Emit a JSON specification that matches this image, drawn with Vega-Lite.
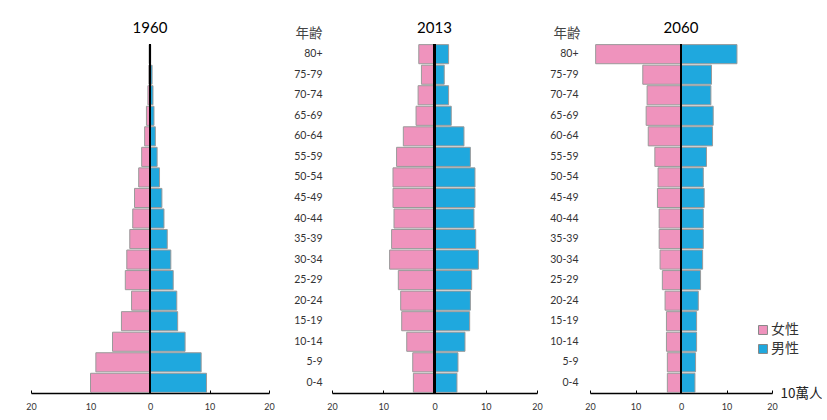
{
  "$schema": "https://vega.github.io/schema/vega-lite/v6.json",
  "padding": {"left": 25, "top": 21, "right": 0, "bottom": 0},
  "background": "white",
  "spacing": 4,
  "resolve": {"scale": {"color": "independent"}, "legend": {"color": "independent"}},
  "config": {
    "view": {"stroke": null},
    "font": "Lato",
    "title": {"fontSize": 15, "fontWeight": "normal", "color": "#000", "font": "Lato", "offset": 10},
    "axisX": {
      "domainColor": "#000", "domainWidth": 1.3, "labelFlush": false,
      "tickColor": "#000", "tickSize": -3, "tickWidth": 1,
      "labelPadding": 12, "labelFontSize": 9, "labelColor": "#333", "labelFont": "Lato",
      "grid": false
    },
    "axisY": {"domain": false, "ticks": false, "grid": false, "labelFont": "Lato", "labelFontSize": 10.5, "labelColor": "#333", "labelAlign": "right",
              "titleAngle": 0, "titleBaseline": "middle", "titleY": -11,
              "titleFont": "Noto Sans CJK TC", "titleFontSize": 13.5, "titleFontWeight": "normal", "titleColor": "#444"}
  },
  "data": {"values": [
    {"year": "1960", "age": "80+", "sex": "女性", "pop": -0.15},
    {"year": "1960", "age": "80+", "sex": "男性", "pop": 0.12},
    {"year": "1960", "age": "75-79", "sex": "女性", "pop": -0.2},
    {"year": "1960", "age": "75-79", "sex": "男性", "pop": 0.35},
    {"year": "1960", "age": "70-74", "sex": "女性", "pop": -0.35},
    {"year": "1960", "age": "70-74", "sex": "男性", "pop": 0.5},
    {"year": "1960", "age": "65-69", "sex": "女性", "pop": -0.6},
    {"year": "1960", "age": "65-69", "sex": "男性", "pop": 0.67},
    {"year": "1960", "age": "60-64", "sex": "女性", "pop": -0.9},
    {"year": "1960", "age": "60-64", "sex": "男性", "pop": 0.9},
    {"year": "1960", "age": "55-59", "sex": "女性", "pop": -1.4},
    {"year": "1960", "age": "55-59", "sex": "男性", "pop": 1.2},
    {"year": "1960", "age": "50-54", "sex": "女性", "pop": -1.9},
    {"year": "1960", "age": "50-54", "sex": "男性", "pop": 1.6},
    {"year": "1960", "age": "45-49", "sex": "女性", "pop": -2.6},
    {"year": "1960", "age": "45-49", "sex": "男性", "pop": 2.0},
    {"year": "1960", "age": "40-44", "sex": "女性", "pop": -2.9},
    {"year": "1960", "age": "40-44", "sex": "男性", "pop": 2.35},
    {"year": "1960", "age": "35-39", "sex": "女性", "pop": -3.4},
    {"year": "1960", "age": "35-39", "sex": "男性", "pop": 2.9},
    {"year": "1960", "age": "30-34", "sex": "女性", "pop": -3.9},
    {"year": "1960", "age": "30-34", "sex": "男性", "pop": 3.5},
    {"year": "1960", "age": "25-29", "sex": "女性", "pop": -4.15},
    {"year": "1960", "age": "25-29", "sex": "男性", "pop": 3.9},
    {"year": "1960", "age": "20-24", "sex": "女性", "pop": -3.1},
    {"year": "1960", "age": "20-24", "sex": "男性", "pop": 4.5},
    {"year": "1960", "age": "15-19", "sex": "女性", "pop": -4.8},
    {"year": "1960", "age": "15-19", "sex": "男性", "pop": 4.65},
    {"year": "1960", "age": "10-14", "sex": "女性", "pop": -6.3},
    {"year": "1960", "age": "10-14", "sex": "男性", "pop": 5.9},
    {"year": "1960", "age": "5-9", "sex": "女性", "pop": -9.1},
    {"year": "1960", "age": "5-9", "sex": "男性", "pop": 8.6},
    {"year": "1960", "age": "0-4", "sex": "女性", "pop": -10.0},
    {"year": "1960", "age": "0-4", "sex": "男性", "pop": 9.5},
    {"year": "2013", "age": "80+", "sex": "女性", "pop": -3.07},
    {"year": "2013", "age": "80+", "sex": "男性", "pop": 2.75},
    {"year": "2013", "age": "75-79", "sex": "女性", "pop": -2.55},
    {"year": "2013", "age": "75-79", "sex": "男性", "pop": 1.9},
    {"year": "2013", "age": "70-74", "sex": "女性", "pop": -3.2},
    {"year": "2013", "age": "70-74", "sex": "男性", "pop": 2.75},
    {"year": "2013", "age": "65-69", "sex": "女性", "pop": -3.6},
    {"year": "2013", "age": "65-69", "sex": "男性", "pop": 3.27},
    {"year": "2013", "age": "60-64", "sex": "女性", "pop": -6.08},
    {"year": "2013", "age": "60-64", "sex": "男性", "pop": 5.75},
    {"year": "2013", "age": "55-59", "sex": "女性", "pop": -7.4},
    {"year": "2013", "age": "55-59", "sex": "男性", "pop": 7.0},
    {"year": "2013", "age": "50-54", "sex": "女性", "pop": -8.1},
    {"year": "2013", "age": "50-54", "sex": "男性", "pop": 7.9},
    {"year": "2013", "age": "45-49", "sex": "女性", "pop": -8.1},
    {"year": "2013", "age": "45-49", "sex": "男性", "pop": 7.9},
    {"year": "2013", "age": "40-44", "sex": "女性", "pop": -7.9},
    {"year": "2013", "age": "40-44", "sex": "男性", "pop": 7.7},
    {"year": "2013", "age": "35-39", "sex": "女性", "pop": -8.37},
    {"year": "2013", "age": "35-39", "sex": "男性", "pop": 8.04},
    {"year": "2013", "age": "30-34", "sex": "女性", "pop": -8.76},
    {"year": "2013", "age": "30-34", "sex": "男性", "pop": 8.56},
    {"year": "2013", "age": "25-29", "sex": "女性", "pop": -7.06},
    {"year": "2013", "age": "25-29", "sex": "男性", "pop": 7.25},
    {"year": "2013", "age": "20-24", "sex": "女性", "pop": -6.6},
    {"year": "2013", "age": "20-24", "sex": "男性", "pop": 7.0},
    {"year": "2013", "age": "15-19", "sex": "女性", "pop": -6.4},
    {"year": "2013", "age": "15-19", "sex": "男性", "pop": 6.86},
    {"year": "2013", "age": "10-14", "sex": "女性", "pop": -5.42},
    {"year": "2013", "age": "10-14", "sex": "男性", "pop": 5.95},
    {"year": "2013", "age": "5-9", "sex": "女性", "pop": -4.25},
    {"year": "2013", "age": "5-9", "sex": "男性", "pop": 4.58},
    {"year": "2013", "age": "0-4", "sex": "女性", "pop": -4.12},
    {"year": "2013", "age": "0-4", "sex": "男性", "pop": 4.38},
    {"year": "2060", "age": "80+", "sex": "女性", "pop": -18.76},
    {"year": "2060", "age": "80+", "sex": "男性", "pop": 12.3},
    {"year": "2060", "age": "75-79", "sex": "女性", "pop": -8.4},
    {"year": "2060", "age": "75-79", "sex": "男性", "pop": 6.7},
    {"year": "2060", "age": "70-74", "sex": "女性", "pop": -7.45},
    {"year": "2060", "age": "70-74", "sex": "男性", "pop": 6.57},
    {"year": "2060", "age": "65-69", "sex": "女性", "pop": -7.66},
    {"year": "2060", "age": "65-69", "sex": "男性", "pop": 7.08},
    {"year": "2060", "age": "60-64", "sex": "女性", "pop": -7.2},
    {"year": "2060", "age": "60-64", "sex": "男性", "pop": 6.93},
    {"year": "2060", "age": "55-59", "sex": "女性", "pop": -5.75},
    {"year": "2060", "age": "55-59", "sex": "男性", "pop": 5.6},
    {"year": "2060", "age": "50-54", "sex": "女性", "pop": -5.04},
    {"year": "2060", "age": "50-54", "sex": "男性", "pop": 4.9},
    {"year": "2060", "age": "45-49", "sex": "女性", "pop": -5.18},
    {"year": "2060", "age": "45-49", "sex": "男性", "pop": 5.1},
    {"year": "2060", "age": "40-44", "sex": "女性", "pop": -4.8},
    {"year": "2060", "age": "40-44", "sex": "男性", "pop": 4.9},
    {"year": "2060", "age": "35-39", "sex": "女性", "pop": -4.8},
    {"year": "2060", "age": "35-39", "sex": "男性", "pop": 4.9},
    {"year": "2060", "age": "30-34", "sex": "女性", "pop": -4.6},
    {"year": "2060", "age": "30-34", "sex": "男性", "pop": 4.75},
    {"year": "2060", "age": "25-29", "sex": "女性", "pop": -4.1},
    {"year": "2060", "age": "25-29", "sex": "男性", "pop": 4.3},
    {"year": "2060", "age": "20-24", "sex": "女性", "pop": -3.5},
    {"year": "2060", "age": "20-24", "sex": "男性", "pop": 3.8},
    {"year": "2060", "age": "15-19", "sex": "女性", "pop": -3.2},
    {"year": "2060", "age": "15-19", "sex": "男性", "pop": 3.43},
    {"year": "2060", "age": "10-14", "sex": "女性", "pop": -3.2},
    {"year": "2060", "age": "10-14", "sex": "男性", "pop": 3.43},
    {"year": "2060", "age": "5-9", "sex": "女性", "pop": -3.0},
    {"year": "2060", "age": "5-9", "sex": "男性", "pop": 3.2},
    {"year": "2060", "age": "0-4", "sex": "女性", "pop": -3.0},
    {"year": "2060", "age": "0-4", "sex": "男性", "pop": 3.07}
  ]},
  "hconcat": [
    {
      "title": {"text": "1960", "dy": 20},
      "width": 238, "height": 349,
      "transform": [{"filter": "datum.year === '1960'"}],
      "layer": [
        {
          "mark": {"type": "bar", "stroke": "#9a9a9a", "strokeWidth": 1},
          "encoding": {
            "y": {"field": "age", "type": "nominal", "sort": ["80+","75-79","70-74","65-69","60-64","55-59","50-54","45-49","40-44","35-39","30-34","25-29","20-24","15-19","10-14","5-9","0-4"],
                  "scale": {"paddingInner": 0.07, "paddingOuter": 0.03},
                  "axis": {"orient": "right", "title": "年齢", "titleX": 39.5, "labelPadding": 53}},
            "x": {"field": "pop", "type": "quantitative", "scale": {"domain": [-20, 20], "nice": false},
                  "axis": {"values": [-20, -10, 0, 10, 20], "labelExpr": "abs(datum.value)", "title": null}},
            "color": {"field": "sex", "type": "nominal", "scale": {"domain": ["女性", "男性"], "range": ["#ef93bd", "#1fa8de"]}, "legend": null}
          }
        },
        {
          "mark": {"type": "rule", "color": "#000", "strokeWidth": 1.3},
          "encoding": {"x": {"datum": 0}}
        }
      ]
    },
    {
      "title": {"text": "2013", "dy": 20},
      "width": 205, "height": 349,
      "transform": [{"filter": "datum.year === '2013'"}],
      "layer": [
        {
          "mark": {"type": "bar", "stroke": "#9a9a9a", "strokeWidth": 1},
          "encoding": {
            "y": {"field": "age", "type": "nominal", "sort": ["80+","75-79","70-74","65-69","60-64","55-59","50-54","45-49","40-44","35-39","30-34","25-29","20-24","15-19","10-14","5-9","0-4"],
                  "scale": {"paddingInner": 0.07, "paddingOuter": 0.03},
                  "axis": {"orient": "right", "title": "年齢", "titleX": 29.5, "labelPadding": 41}},
            "x": {"field": "pop", "type": "quantitative", "scale": {"domain": [-20, 20], "nice": false},
                  "axis": {"values": [-20, -10, 0, 10, 20], "labelExpr": "abs(datum.value)", "title": null}},
            "color": {"field": "sex", "type": "nominal", "scale": {"domain": ["女性", "男性"], "range": ["#ef93bd", "#1fa8de"]}, "legend": null}
          }
        },
        {
          "mark": {"type": "rule", "color": "#000", "strokeWidth": 1.3},
          "encoding": {"x": {"datum": 0}}
        }
      ]
    },
    {
      "title": {"text": "2060", "offset": 7},
      "width": 182, "height": 349,
      "transform": [{"filter": "datum.year === '2060'"}],
      "layer": [
        {
          "mark": {"type": "bar", "stroke": "#9a9a9a", "strokeWidth": 1},
          "encoding": {
            "y": {"field": "age", "type": "nominal", "sort": ["80+","75-79","70-74","65-69","60-64","55-59","50-54","45-49","40-44","35-39","30-34","25-29","20-24","15-19","10-14","5-9","0-4"],
                  "scale": {"paddingInner": 0.07, "paddingOuter": 0.03}, "axis": null},
            "x": {"field": "pop", "type": "quantitative", "scale": {"domain": [-20, 20], "nice": false},
                  "axis": {"values": [-20, -10, 0, 10, 20], "labelExpr": "abs(datum.value)",
                           "title": "10萬人", "titleAngle": 0, "titleAlign": "left", "titleBaseline": "middle", "titleX": 190, "titleY": 0,
                           "titleFont": "Noto Sans CJK TC", "titleFontSize": 13.5, "titleFontWeight": "normal", "titleColor": "#222"}},
            "color": {"field": "sex", "type": "nominal", "scale": {"domain": ["女性", "男性"], "range": ["#ef93bd", "#1fa8de"]},
                      "legend": {"title": null, "orient": "none", "legendX": 166, "legendY": 279, "symbolType": "square", "symbolSize": 80,
                                 "symbolStrokeColor": "#888", "symbolStrokeWidth": 1, "labelFont": "Noto Sans CJK TC", "labelFontSize": 14, "labelColor": "#333", "labelOffset": 1, "rowPadding": 5}}
          }
        },
        {
          "mark": {"type": "rule", "color": "#000", "strokeWidth": 1.3},
          "encoding": {"x": {"datum": 0}}
        }
      ]
    }
  ]
}
